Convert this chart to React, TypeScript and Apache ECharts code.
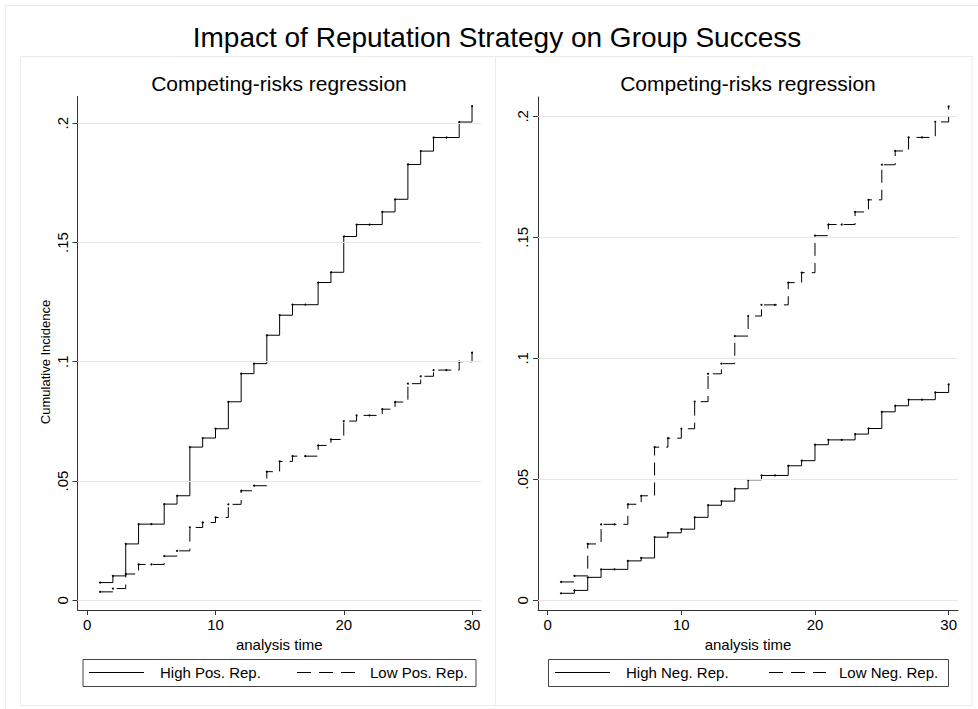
import React, { useEffect, useRef } from "react";
import * as echarts from "echarts";

const MAIN_TITLE = "Impact of Reputation Strategy on Group Success";
const PANEL_TITLE = "Competing-risks regression";
const X_TITLE = "analysis time";
const Y_TITLE = "Cumulative Incidence";

const TIMES = [1, 2, 3, 4, 5, 6, 7, 8, 9, 10, 11, 12, 13, 14, 15, 16, 17, 18, 19, 20, 21, 22, 23, 24, 25, 26, 27, 28, 29, 30];

const HIGH_POS = [0.0074, 0.0102, 0.0236, 0.0319, 0.0319, 0.0403, 0.0438, 0.0642, 0.068, 0.0719, 0.0832, 0.095, 0.0992, 0.1111, 0.1195, 0.1239, 0.1239, 0.1332, 0.1375, 0.1525, 0.1575, 0.1575, 0.1628, 0.1681, 0.1827, 0.1883, 0.194, 0.194, 0.2005, 0.2072];
const LOW_POS = [0.0035, 0.0049, 0.011, 0.015, 0.015, 0.0185, 0.0207, 0.0305, 0.0326, 0.0347, 0.0402, 0.0459, 0.048, 0.0539, 0.0582, 0.0604, 0.0604, 0.0649, 0.0674, 0.0751, 0.0775, 0.0775, 0.0801, 0.0831, 0.0908, 0.0939, 0.0965, 0.0965, 0.1, 0.1038];
const HIGH_NEG = [0.0029, 0.0041, 0.0095, 0.0128, 0.0128, 0.0163, 0.0175, 0.0261, 0.0279, 0.0294, 0.0343, 0.0393, 0.041, 0.0461, 0.0498, 0.0516, 0.0516, 0.0556, 0.0577, 0.0643, 0.0663, 0.0663, 0.0687, 0.071, 0.0779, 0.0804, 0.0829, 0.0829, 0.0859, 0.0892];
const LOW_NEG = [0.0076, 0.0101, 0.0233, 0.0314, 0.0314, 0.0397, 0.0432, 0.0633, 0.067, 0.0709, 0.0821, 0.0936, 0.0978, 0.1092, 0.1175, 0.1221, 0.1221, 0.1313, 0.1354, 0.1507, 0.1553, 0.1553, 0.1605, 0.1655, 0.18, 0.1857, 0.1913, 0.1913, 0.1977, 0.2041];

const LEGEND_LEFT = ["High Pos. Rep.", "Low Pos. Rep."];
const LEGEND_RIGHT = ["High Neg. Rep.", "Low Neg. Rep."];

const X_TICKS = [0, 10, 20, 30];
const Y_TICKS = [0, 0.05, 0.1, 0.15, 0.2];

const FONT = "'Liberation Sans', Arial, Helvetica, sans-serif";
const DASH = [13, 7];

function fmtY(v: number): string {
  if (v === 0) return "0";
  return String(Math.round(v * 100) / 100).replace(/^0/, "");
}

export default function App() {
  const ref = useRef<HTMLDivElement>(null);

  useEffect(() => {
    document.body.style.margin = "0";
    if (!ref.current) return;
    const chart = echarts.init(ref.current, undefined, { renderer: "svg" });

    const axisColor = "#333";
    const mkX = (gridIndex: number, min: number, max: number) => ({
      gridIndex,
      type: "value",
      min,
      max,
      axisLine: { show: true, onZero: false, lineStyle: { color: axisColor, width: 1 } },
      axisTick: { show: true, length: 5, customValues: X_TICKS, lineStyle: { color: axisColor } },
      axisLabel: { customValues: X_TICKS, margin: 7, fontSize: 15, color: "#000", fontFamily: FONT },
      splitLine: { show: false },
      name: X_TITLE,
      nameLocation: "middle",
      nameGap: 24,
      nameTextStyle: { fontSize: 15, color: "#000", fontFamily: FONT },
    });
    const mkY = (gridIndex: number, min: number, max: number) => ({
      gridIndex,
      type: "value",
      min,
      max,
      axisLine: { show: true, onZero: false, lineStyle: { color: axisColor, width: 1 } },
      axisTick: { show: true, length: 5, customValues: Y_TICKS, lineStyle: { color: axisColor } },
      axisLabel: {
        customValues: Y_TICKS,
        rotate: 90,
        margin: 8,
        fontSize: 15,
        color: "#000",
        fontFamily: FONT,
        formatter: (v: number) => fmtY(v),
      },
      splitLine: { show: false },
    });

    const gridLines = {
      silent: true,
      symbol: ["none", "none"],
      label: { show: false },
      lineStyle: { color: "#e6e6e6", type: "solid", width: 1 },
      data: Y_TICKS.map((v) => ({ yAxis: v })),
    };

    const mkSeries = (name: string, idx: number, vals: number[], dashed: boolean, withGrid: boolean) => ({
      name,
      type: "line",
      xAxisIndex: idx,
      yAxisIndex: idx,
      step: "end",
      data: TIMES.map((t, i) => [t, vals[i]]),
      symbol: "circle",
      symbolSize: 2,
      showSymbol: true,
      itemStyle: { color: "#000" },
      lineStyle: { color: "#000", width: 1, type: dashed ? DASH : "solid" },
      z: 3,
      silent: true,
      markLine: withGrid ? gridLines : undefined,
    });

    const legendItems = (x0: number, w: number, lineA: [number, number], textA: number, lineB: [number, number], textB: number, labels: string[]) => {
      const y = 672.5;
      return [
        { type: "rect", shape: { x: x0 + 0.5, y: 659.5, width: w, height: 27 }, style: { fill: "#fff", stroke: "#444", lineWidth: 1 } },
        { type: "line", shape: { x1: lineA[0], y1: y, x2: lineA[1], y2: y }, style: { stroke: "#000", lineWidth: 1 } },
        { type: "text", x: textA, y, style: { text: labels[0], fontSize: 15, fontFamily: FONT, fill: "#000", align: "left", verticalAlign: "middle" } },
        { type: "line", shape: { x1: lineB[0], y1: y, x2: lineB[1], y2: y }, style: { stroke: "#000", lineWidth: 1, lineDash: [14, 8] } },
        { type: "text", x: textB, y, style: { text: labels[1], fontSize: 15, fontFamily: FONT, fill: "#000", align: "left", verticalAlign: "middle" } },
      ];
    };

    const option: any = {
      animation: false,
      backgroundColor: "#fff",
      grid: [
        { left: 77.5, top: 96.5, width: 403.5, height: 513.5, containLabel: false },
        { left: 538, top: 97, width: 420, height: 513, containLabel: false },
      ],
      xAxis: [mkX(0, -0.76, 30.7), mkX(1, -0.72, 30.7)],
      yAxis: [mkY(0, -0.0041, 0.2112), mkY(1, -0.004, 0.208)],
      series: [
        mkSeries(LEGEND_LEFT[0], 0, HIGH_POS, false, true),
        mkSeries(LEGEND_LEFT[1], 0, LOW_POS, true, false),
        mkSeries(LEGEND_RIGHT[0], 1, HIGH_NEG, false, true),
        mkSeries(LEGEND_RIGHT[1], 1, LOW_NEG, true, false),
      ],
      graphic: [
        { type: "rect", z: -10, shape: { x: 5.5, y: 5.5, width: 990, height: 720 }, style: { fill: "none", stroke: "#ebebeb", lineWidth: 1 } },
        { type: "rect", z: -10, shape: { x: 20.5, y: 56.5, width: 475, height: 649 }, style: { fill: "none", stroke: "#ebebeb", lineWidth: 1 } },
        { type: "rect", z: -10, shape: { x: 495.5, y: 56.5, width: 476.5, height: 649 }, style: { fill: "none", stroke: "#ebebeb", lineWidth: 1 } },
        { type: "text", x: 497, y: 37, style: { text: MAIN_TITLE, fontSize: 28, fontFamily: FONT, fill: "#000", align: "center", verticalAlign: "middle" } },
        { type: "text", x: 279, y: 83, style: { text: PANEL_TITLE, fontSize: 21, fontFamily: FONT, fill: "#000", align: "center", verticalAlign: "middle" } },
        { type: "text", x: 748, y: 83, style: { text: PANEL_TITLE, fontSize: 21, fontFamily: FONT, fill: "#000", align: "center", verticalAlign: "middle" } },
        { type: "text", x: 45, y: 362, rotation: Math.PI / 2, style: { text: Y_TITLE, fontSize: 13, fontFamily: FONT, fill: "#000", align: "center", verticalAlign: "middle" } },
        ...legendItems(82.5, 393, [89, 144], 160, [297, 355], 370, LEGEND_LEFT),
        ...legendItems(548, 400, [555, 610], 626, [769, 826], 839, LEGEND_RIGHT),
      ],
    };

    chart.setOption(option);
    return () => chart.dispose();
  }, []);

  return <div ref={ref} style={{ position: "absolute", left: 0, top: 0, width: 978, height: 709 }} />;
}
